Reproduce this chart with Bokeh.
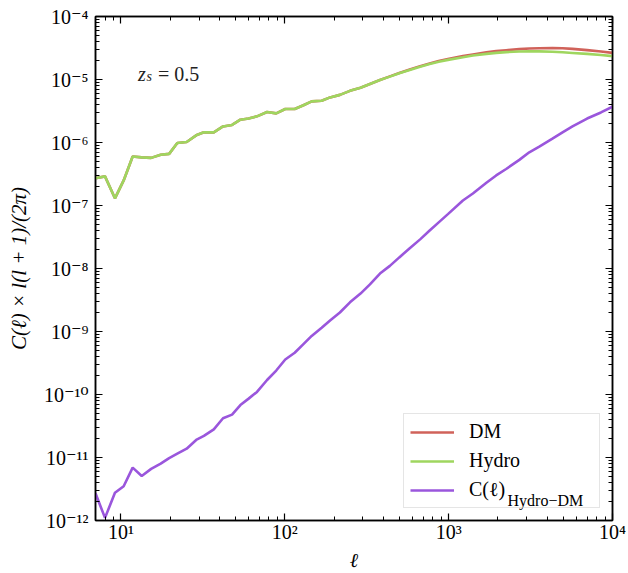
from bokeh.plotting import figure
from bokeh.models import FixedTicker, LogAxis, Legend, LegendItem, Range1d, Label
from bokeh.core.properties import value
from bokeh.embed import file_html
from bokeh.resources import INLINE

ell = [7, 8, 9.2, 10.4, 11.8, 13.4, 15.3, 17.5, 19.7, 22.1, 25.2, 28.8, 32.1, 36.9, 42, 47.7,
       53.6, 60.2, 67.7, 78, 88.7, 100.7, 115, 130, 146, 168, 189, 217, 250, 290, 331, 381,
       438, 500, 579, 670, 766, 870, 990, 1222, 1406, 1700, 1950, 2244, 2700, 3106, 3575,
       4300, 4955, 5700, 7000, 8500, 10000]

hydro = [2.7e-7, 2.9e-7, 1.3e-7, 2.5e-7, 6.0e-7, 5.8e-7, 5.7e-7, 6.4e-7, 6.6e-7, 9.8e-7,
         1.02e-6, 1.3e-6, 1.45e-6, 1.45e-6, 1.8e-6, 1.9e-6, 2.3e-6, 2.4e-6, 2.6e-6, 3.05e-6,
         2.9e-6, 3.4e-6, 3.4e-6, 3.9e-6, 4.5e-6, 4.6e-6, 5.2e-6, 5.7e-6, 6.6e-6, 7.4e-6,
         8.5e-6, 9.8e-6, 1.11e-5, 1.26e-5, 1.42e-5, 1.6e-5, 1.76e-5, 1.92e-5, 2.05e-5,
         2.25e-5, 2.4e-5, 2.55e-5, 2.65e-5, 2.72e-5, 2.78e-5, 2.8e-5, 2.8e-5, 2.76e-5,
         2.7e-5, 2.64e-5, 2.55e-5, 2.45e-5, 2.35e-5]

dm = [2.7e-7, 2.9e-7, 1.3e-7, 2.5e-7, 6.0e-7, 5.8e-7, 5.7e-7, 6.4e-7, 6.6e-7, 9.8e-7,
      1.02e-6, 1.3e-6, 1.45e-6, 1.45e-6, 1.8e-6, 1.9e-6, 2.3e-6, 2.4e-6, 2.6e-6, 3.05e-6,
      2.9e-6, 3.4e-6, 3.4e-6, 3.9e-6, 4.5e-6, 4.6e-6, 5.2e-6, 5.7e-6, 6.6e-6, 7.4e-6,
      8.5e-6, 9.8e-6, 1.12e-5, 1.27e-5, 1.44e-5, 1.63e-5, 1.8e-5, 1.97e-5, 2.12e-5,
      2.35e-5, 2.5e-5, 2.7e-5, 2.82e-5, 2.92e-5, 3.03e-5, 3.1e-5, 3.14e-5, 3.16e-5,
      3.13e-5, 3.06e-5, 2.93e-5, 2.78e-5, 2.65e-5]

diff = [2.7e-12, 1.1e-12, 2.75e-12, 3.5e-12, 6.9e-12, 5.1e-12, 6.6e-12, 8.0e-12, 9.8e-12,
        1.15e-11, 1.38e-11, 1.9e-11, 2.2e-11, 2.8e-11, 4.2e-11, 4.8e-11, 6.8e-11, 8.6e-11,
        1.1e-10, 1.7e-10, 2.4e-10, 3.6e-10, 4.6e-10, 6.3e-10, 8.5e-10, 1.15e-9, 1.5e-9,
        2.0e-9, 2.9e-9, 4.0e-9, 5.6e-9, 8.3e-9, 1.1e-8, 1.5e-8, 2.1e-8, 2.9e-8, 4.0e-8,
        5.4e-8, 7.3e-8, 1.2e-7, 1.55e-7, 2.3e-7, 3.0e-7, 3.8e-7, 5.3e-7, 7.0e-7, 8.6e-7,
        1.15e-6, 1.45e-6, 1.8e-6, 2.4e-6, 3.0e-6, 3.7e-6]

x_major = [10, 100, 1000, 10000]
x_major_labels = ["10¹", "10²", "10³", "10⁴"]
y_major = [1e-12, 1e-11, 1e-10, 1e-9, 1e-8, 1e-7, 1e-6, 1e-5, 1e-4]
y_major_labels = ["10⁻¹²", "10⁻¹¹", "10⁻¹⁰", "10⁻⁹", "10⁻⁸", "10⁻⁷", "10⁻⁶", "10⁻⁵", "10⁻⁴"]

x_minor = [k * 10.0 ** e for e in range(0, 4) for k in range(2, 10)]
y_minor = [k * 10.0 ** e for e in range(-12, -4) for k in range(2, 10)]

X_MIN, X_MAX = 7, 1e4
Y_MIN, Y_MAX = 1e-12, 1e-4

FONT = "Liberation Serif"
TICK_FONT = "Liberation Serif, DejaVu Serif"
C_DM = "#d0625a"
C_HY = "#9fd65f"
C_DF = "#9a56dc"

p = figure(width=628, height=573, x_axis_type="log", y_axis_type="log",
           x_range=Range1d(X_MIN, X_MAX), y_range=Range1d(Y_MIN, Y_MAX),
           output_backend="svg", toolbar_location=None,
           min_border_left=95, min_border_right=16, min_border_top=16, min_border_bottom=52)
p.xgrid.visible = False
p.ygrid.visible = False
p.outline_line_color = "black"
p.outline_line_width = 1.5
p.background_fill_color = "white"
p.border_fill_color = "white"

bottom = p.below[0]
left = p.left[0]

def style_axis(ax, ticks, minor, labels, show):
    ax.ticker = FixedTicker(ticks=ticks, minor_ticks=minor)
    ax.major_tick_in = 7
    ax.major_tick_out = 0
    ax.minor_tick_in = 4
    ax.minor_tick_out = 0
    ax.major_tick_line_width = 1.2
    ax.minor_tick_line_width = 1
    ax.axis_line_width = 1.5
    ax.axis_line_color = "black"
    ax.major_tick_line_color = "black"
    ax.minor_tick_line_color = "black"
    ax.major_label_overrides = {t: l for t, l in zip(ticks, labels)}
    ax.major_label_text_font = TICK_FONT
    if show:
        ax.major_label_text_font_size = "20px"
        ax.major_label_text_color = "black"
    else:
        ax.major_label_text_font_size = "1px"
        ax.major_label_text_alpha = 0
        ax.major_label_standoff = 0

top = LogAxis()
right = LogAxis()
style_axis(bottom, x_major, x_minor, x_major_labels, True)
style_axis(left, y_major, y_minor, y_major_labels, True)
style_axis(top, x_major, x_minor, x_major_labels, False)
style_axis(right, y_major, y_minor, y_major_labels, False)
p.add_layout(top, "above")
p.add_layout(right, "right")
bottom.major_label_standoff = 0
left.major_label_standoff = 7

bottom.axis_label = "ℓ"
left.axis_label = "C(ℓ) × l(l + 1)/(2π)"
for ax in (bottom, left):
    ax.axis_label_text_font = FONT
    ax.axis_label_text_font_style = "italic"
    ax.axis_label_text_color = "black"
bottom.axis_label_text_font_size = "20px"
left.axis_label_text_font_size = "21px"
bottom.axis_label_standoff = 3
left.axis_label_standoff = 10

r_dm = p.line(ell, dm, line_color=C_DM, line_width=2.6)
r_hy = p.line(ell, hydro, line_color=C_HY, line_width=2.6)
r_df = p.line(ell, diff, line_color=C_DF, line_width=2.6)

# z_s = 0.5 annotation
p.text(x=[12.7], y=[1.235e-5], text=["z"], text_font=value(FONT), text_font_style="italic",
       text_font_size="20px", text_baseline="alphabetic", text_align="left", text_color="#222222")
p.text(x=[12.7], y=[1.235e-5], text=["s"], text_font=value(FONT), text_font_style="italic",
       text_font_size="14px", text_baseline="alphabetic", text_align="left", text_color="#222222",
       x_offset=8.5, y_offset=3)
p.text(x=[12.7], y=[1.235e-5], text=["= 0.5"], text_font=value(FONT),
       text_font_size="20px", text_baseline="alphabetic", text_align="left", text_color="#222222",
       x_offset=20)

legend = Legend(items=[LegendItem(label="DM", renderers=[r_dm]),
                       LegendItem(label="Hydro", renderers=[r_hy]),
                       LegendItem(label="C(ℓ)", renderers=[r_df])],
                location="bottom_right")
legend.glyph_width = 44
legend.glyph_height = 20
legend.label_height = 20
legend.label_width = 124
legend.label_standoff = 15
legend.spacing = 6
legend.padding = 6
legend.margin = 12
legend.border_line_color = "#cccccc"
legend.border_line_width = 1.5
legend.background_fill_color = "white"
legend.background_fill_alpha = 0
legend.label_text_font = FONT
legend.label_text_font_size = "20px"
legend.label_text_color = "black"
p.add_layout(legend)

# subscript of the third legend label
p.add_layout(Label(x=2287, y=2.07e-12, text="Hydro−DM", text_font=FONT, text_font_size="16px",
                   text_align="left", text_baseline="alphabetic", text_color="black",
                   level="overlay"))

open("out.html", "w").write(file_html(p, INLINE))
